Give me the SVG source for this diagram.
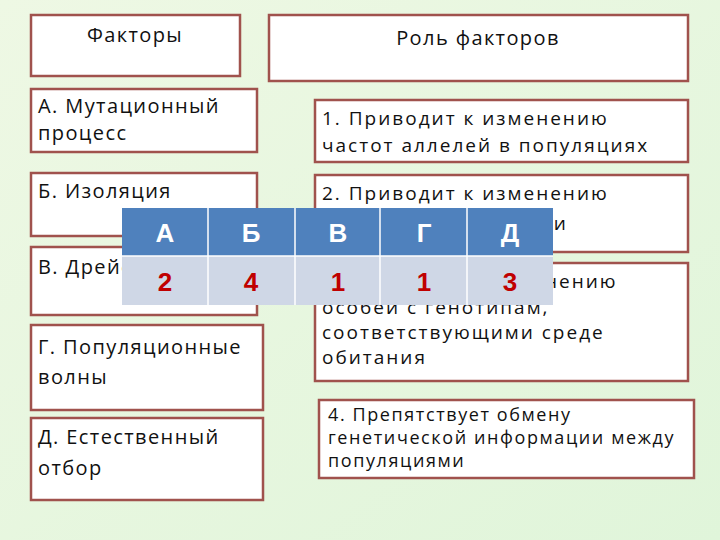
<svg xmlns="http://www.w3.org/2000/svg" width="720" height="540" viewBox="0 0 720 540">
<style>
.b{fill:#fff;stroke:#a0524d;stroke-width:2.5}
.t{font-family:"Open Sans","DejaVu Sans",sans-serif;font-size:20px;letter-spacing:1.4px;fill:#111}
.r{font-family:"Open Sans","DejaVu Sans",sans-serif;font-size:19px;letter-spacing:2px;fill:#111}
.s{font-family:"Open Sans","DejaVu Sans",sans-serif;font-size:18px;letter-spacing:1.6px;fill:#111}
.h{font-family:"Liberation Sans",Arial,sans-serif;font-size:26px;font-weight:bold;fill:#fff;text-anchor:middle}
.n{font-family:"Liberation Sans",Arial,sans-serif;font-size:26px;font-weight:bold;fill:#c00000;text-anchor:middle}
</style>
<defs><linearGradient id="bg" x1="0" y1="0" x2="1" y2="1"><stop offset="0" stop-color="#eef8e4"/><stop offset="1" stop-color="#e0f5da"/></linearGradient></defs>
<rect width="720" height="540" fill="url(#bg)"/>
<g id="h1"><rect class="b" x="31" y="15" width="209" height="61"/><text class="t" x="135" y="42" text-anchor="middle" letter-spacing="1">Факторы</text></g>
<g id="h2"><rect class="b" x="269" y="15" width="419" height="66"/><text class="t" x="478" y="45" text-anchor="middle" font-size="21" letter-spacing="1.2">Роль факторов</text></g>
<g id="fA"><rect class="b" x="31" y="89" width="226" height="63"/><text class="t" x="38" y="113">А. Мутационный</text><text class="t" x="38" y="140">процесс</text></g>
<g id="r1"><rect class="b" x="315" y="100" width="373" height="62"/><text class="r" x="322" y="125">1. Приводит к изменению</text><text class="r" x="322" y="152">частот аллелей в популяциях</text></g>
<g id="fB"><rect class="b" x="31" y="173" width="226" height="63"/><text class="t" x="38" y="198">Б. Изоляция</text></g>
<g id="r2"><rect class="b" x="315" y="175" width="373" height="77"/><text class="r" x="322" y="200">2. Приводит к изменению</text><text class="r" x="322" y="230">генофонда популяции</text></g>
<g id="fV"><rect class="b" x="31" y="247" width="226" height="68"/><text class="t" x="38" y="274">В. Дрейф генов</text></g>
<g id="r3"><rect class="b" x="315" y="263" width="373" height="118"/><text class="r" x="322" y="288">3. Приводит к сохранению</text><text class="r" x="322" y="314">особей с генотипам,</text><text class="r" x="322" y="339">соответствующими среде</text><text class="r" x="322" y="364">обитания</text></g>
<g id="fG"><rect class="b" x="31" y="325" width="232" height="85"/><text class="t" x="38" y="354">Г. Популяционные</text><text class="t" x="38" y="384">волны</text></g>
<g id="fD"><rect class="b" x="31" y="418" width="232" height="82"/><text class="t" x="38" y="444">Д. Естественный</text><text class="t" x="38" y="475">отбор</text></g>
<g id="r4"><rect class="b" x="319" y="400" width="375" height="78"/><text class="s" x="328" y="421">4. Препятствует обмену</text><text class="s" x="328" y="444">генетической информации между</text><text class="s" x="328" y="467">популяциями</text></g>
<g id="table">
<rect x="122" y="208" width="431" height="48" fill="#4f81bd"/>
<rect x="122" y="256" width="431" height="49" fill="#cfd7e6"/>
<g stroke="#fff" stroke-width="1.5"><line x1="122" y1="256" x2="553" y2="256"/><line x1="208" y1="208" x2="208" y2="305"/><line x1="295" y1="208" x2="295" y2="305"/><line x1="380" y1="208" x2="380" y2="305"/><line x1="467" y1="208" x2="467" y2="305"/></g>
<text class="h" x="165" y="242">А</text><text class="h" x="251" y="242">Б</text><text class="h" x="338" y="242">В</text><text class="h" x="424" y="242">Г</text><text class="h" x="510" y="242">Д</text>
<text class="n" x="165" y="291">2</text><text class="n" x="251" y="291">4</text><text class="n" x="338" y="291">1</text><text class="n" x="424" y="291">1</text><text class="n" x="510" y="291">3</text>
</g>
</svg>
